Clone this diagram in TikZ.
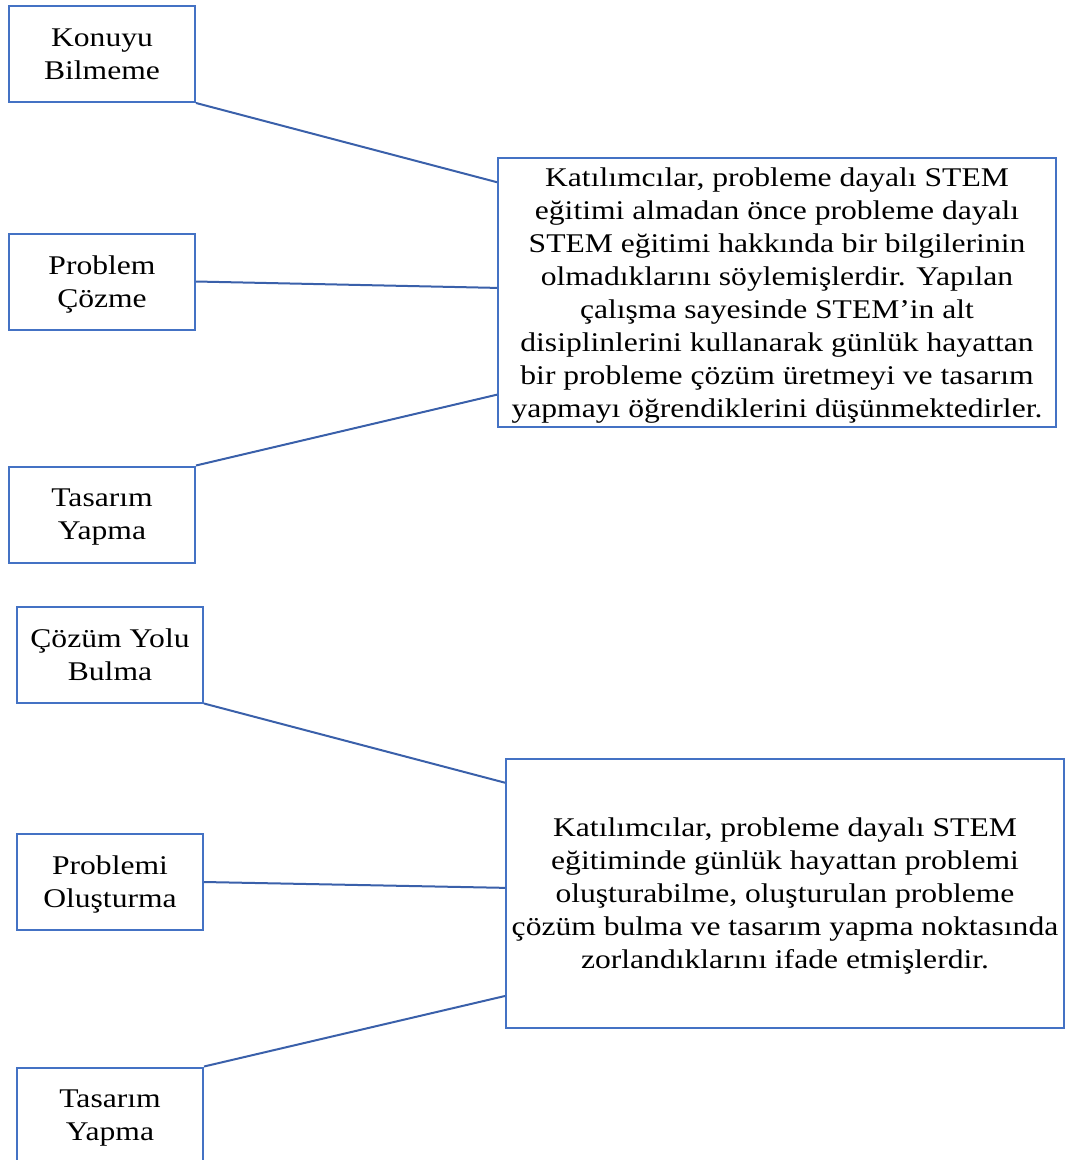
\documentclass[tikz,border=0pt]{standalone}
\usepackage{fontspec}
\setmainfont{Liberation Serif}[FakeStretch=1.17]
\usepackage{xcolor}
\usepackage{tikz}
\usetikzlibrary{calc}

\definecolor{boxblue}{HTML}{4472C4}
\definecolor{lineblue}{HTML}{3A60AA}

\tikzset{
    konu/.style={draw=boxblue, line width=2pt, minimum width=186pt, minimum height=96pt,
        inner sep=0pt, text depth=0pt, align=center, font=\fontsize{27}{33}\selectfont},
    ozet/.style={draw=boxblue, line width=2pt, minimum width=558pt, minimum height=269pt,
        inner sep=0pt, align=center, font=\fontsize{27}{33}\selectfont},
    bag/.style={draw=lineblue, line width=2pt}
}

\begin{document}
\begin{tikzpicture}[x=1pt, y=-1pt]

        \useasboundingbox (0,0) rectangle (1066,1160);

        % Upper group: themes
        \node[konu] (kb) at (102,54) {Konuyu\\Bilmeme};
        \node[konu] (pc) at (102,281.5) {Problem\\Çözme};
        \node[konu] (ty1) at (102,514.5) {Tasarım\\Yapma};

        % Upper group: summary
        \node[ozet] (ob1) at (777,292.5) {\rule{0pt}{25pt}Katılımcılar, probleme dayalı STEM\\
            eğitimi almadan önce probleme dayalı\\
            STEM eğitimi hakkında bir bilgilerinin\\
            olmadıklarını söylemişlerdir. Yapılan\\
            çalışma sayesinde STEM’in alt\\
            disiplinlerini kullanarak günlük hayattan\\
            bir probleme çözüm üretmeyi ve tasarım\\
            yapmayı öğrendiklerini düşünmektedirler.};

        % Upper group: links
        \draw[bag] (kb.south east) -- ($(ob1.north west)!0.093!(ob1.south west)$);
        \draw[bag] (pc.east) -- ($(ob1.north west)!0.483!(ob1.south west)$);
        \draw[bag] (ty1.north east) -- ($(ob1.north west)!0.877!(ob1.south west)$);

        % Lower group: themes
        \node[konu] (cyb) at (110,654.5) {Çözüm Yolu\\Bulma};
        \node[konu] (po) at (110,882) {Problemi\\Oluşturma};
        \node[konu] (ty2) at (110,1115.5) {Tasarım\\Yapma};

        % Lower group: summary
        \node[ozet] (ob2) at (785,893) {\rule{0pt}{25pt}Katılımcılar, probleme dayalı STEM\\
            eğitiminde günlük hayattan problemi\\
            oluşturabilme, oluşturulan probleme\\
            çözüm bulma ve tasarım yapma noktasında\\
            zorlandıklarını ifade etmişlerdir.};

        % Lower group: links
        \draw[bag] (cyb.south east) -- ($(ob2.north west)!0.093!(ob2.south west)$);
        \draw[bag] (po.east) -- ($(ob2.north west)!0.481!(ob2.south west)$);
        \draw[bag] (ty2.north east) -- ($(ob2.north west)!0.88!(ob2.south west)$);

    \end{tikzpicture}
\end{document}
